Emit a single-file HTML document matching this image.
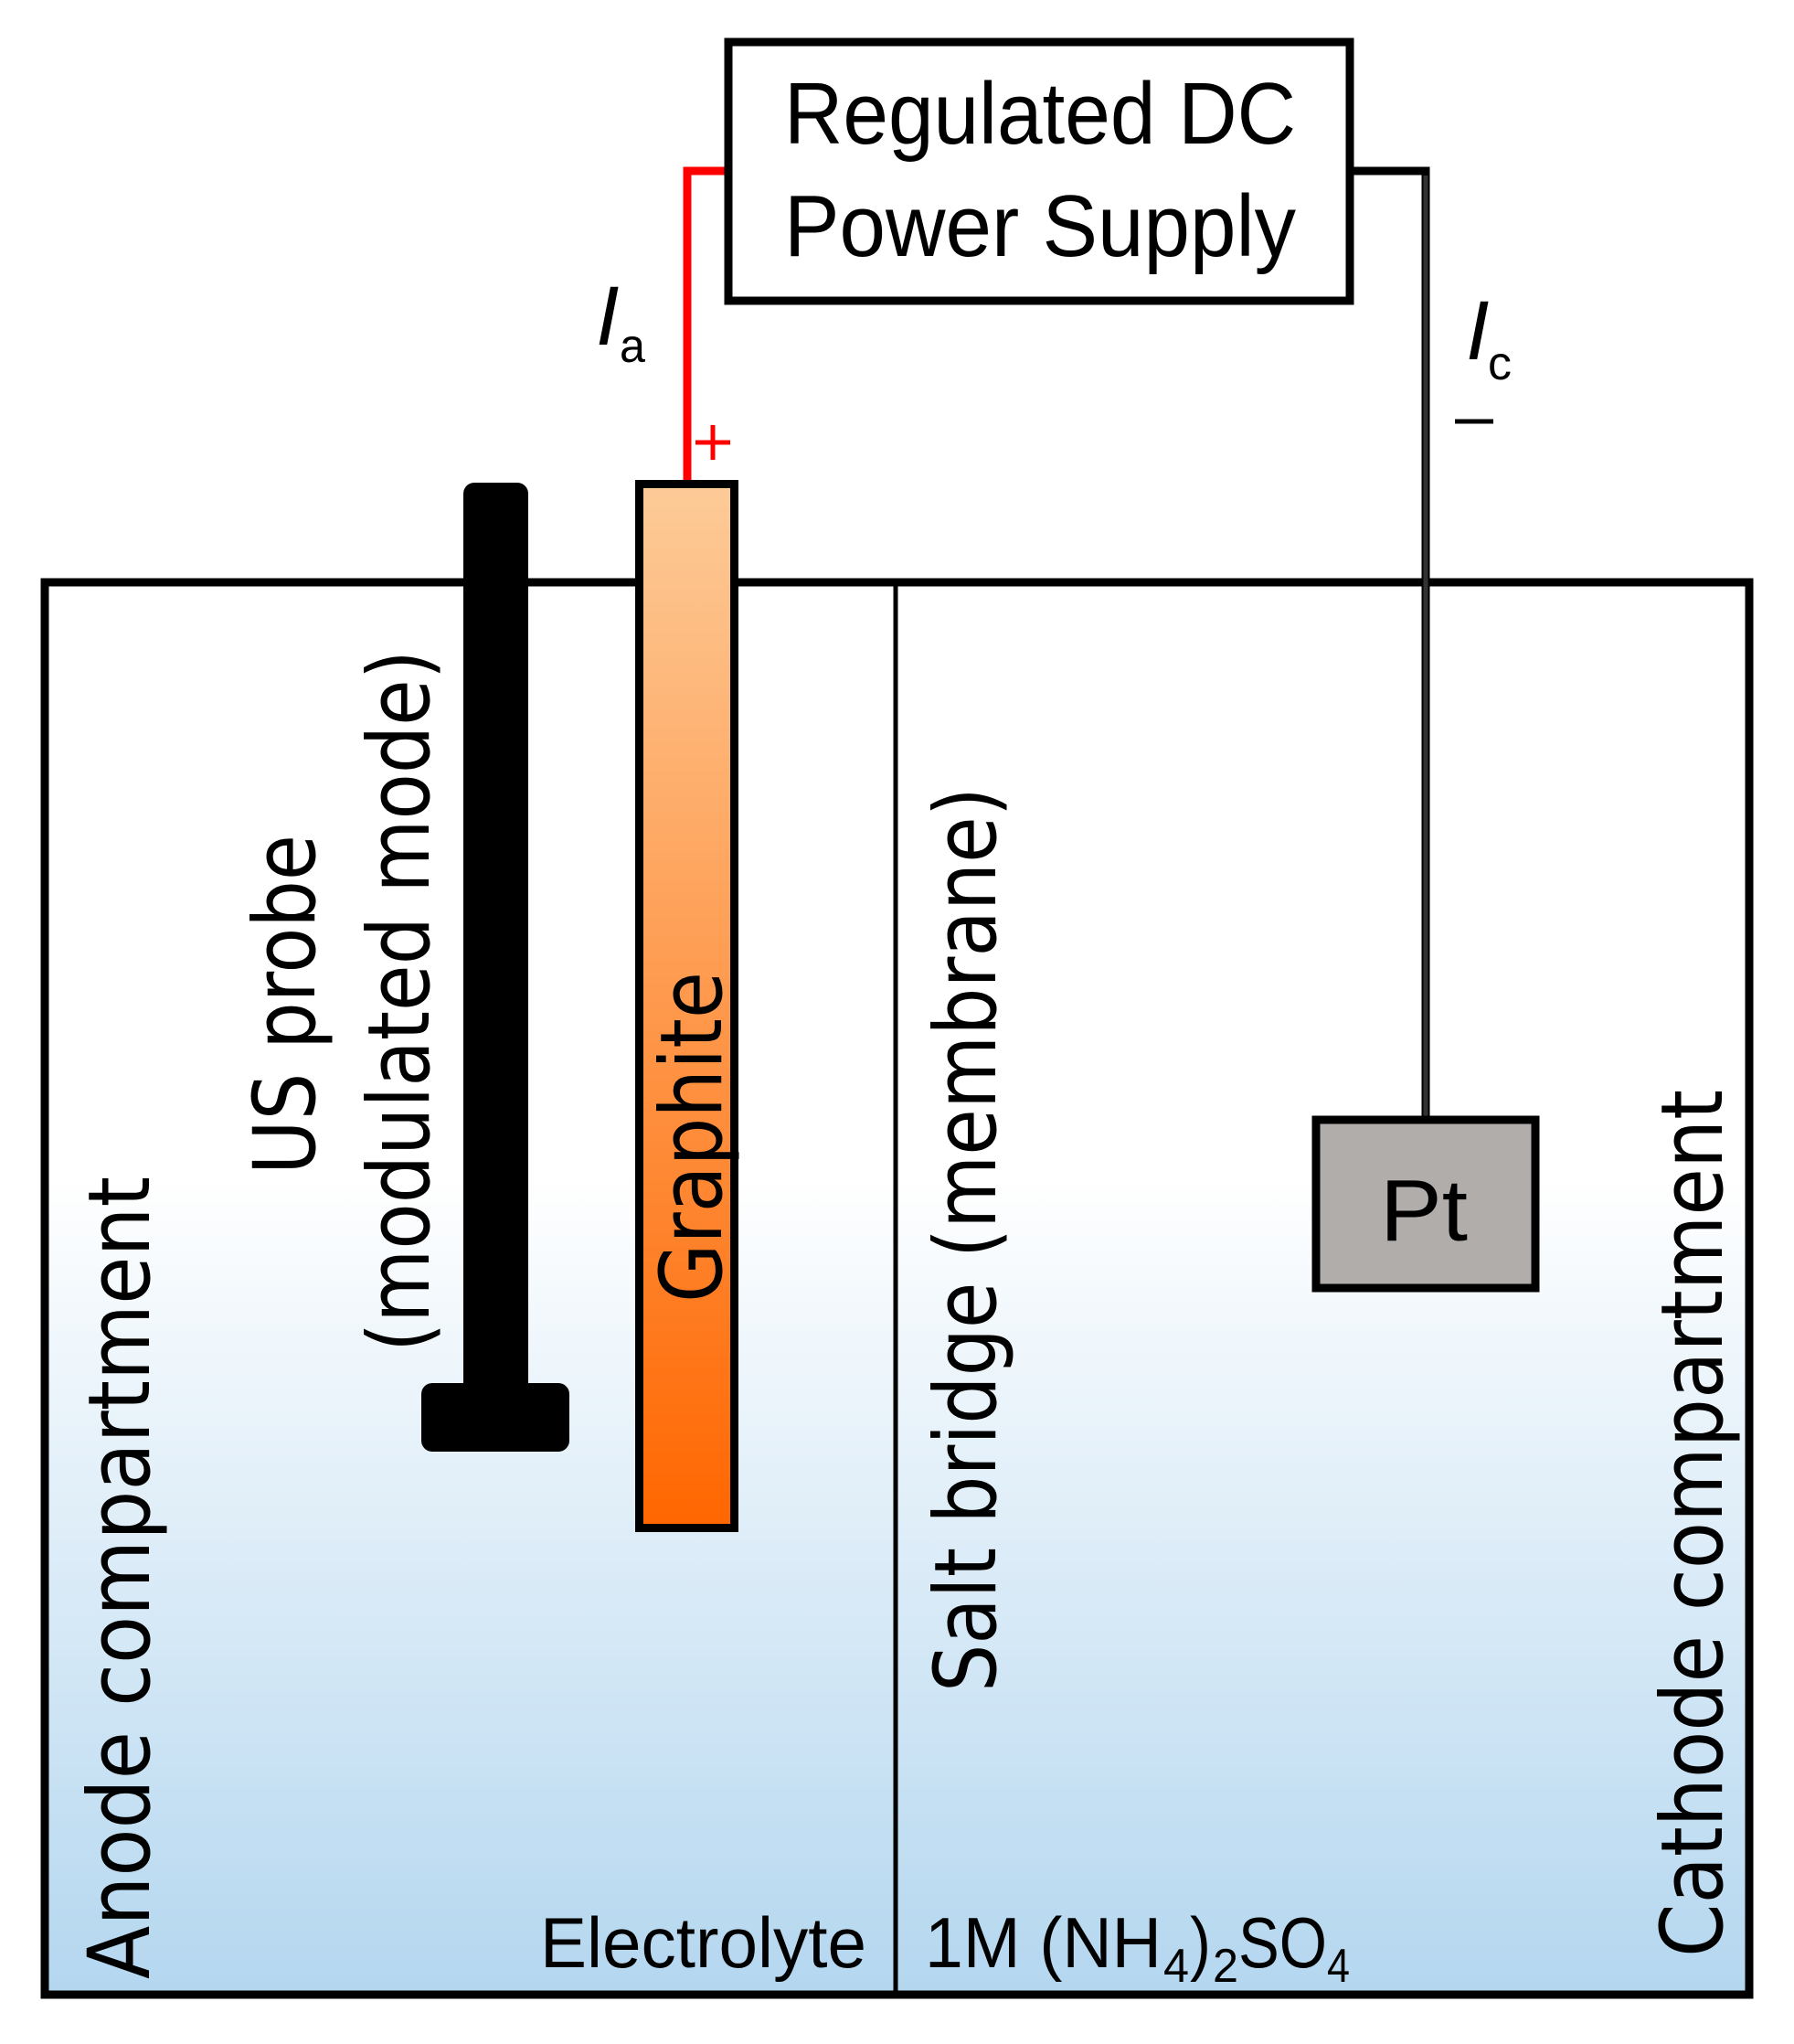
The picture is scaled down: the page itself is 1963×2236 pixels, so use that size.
<!DOCTYPE html>
<html><head><meta charset="utf-8"><style>html,body{margin:0;padding:0;background:#fff}svg{display:block}</style></head>
<body>
<svg width="1963" height="2236" viewBox="0 0 1963 2236" xmlns="http://www.w3.org/2000/svg">
<defs>
<linearGradient id="bg" x1="0" y1="0" x2="0" y2="1" gradientUnits="userSpaceOnUse" x1a="0">
</linearGradient>
<linearGradient id="tank" gradientUnits="userSpaceOnUse" x1="0" y1="633" x2="0" y2="2188">
<stop offset="0" stop-color="#ffffff"/>
<stop offset="0.42" stop-color="#ffffff"/>
<stop offset="1" stop-color="#b3d6ef"/>
</linearGradient>
<linearGradient id="gr" gradientUnits="userSpaceOnUse" x1="0" y1="530" x2="0" y2="1672">
<stop offset="0" stop-color="#fdcb98"/>
<stop offset="1" stop-color="#ff6600"/>
</linearGradient>
</defs>
<!-- tank -->
<rect x="49" y="637" width="1865" height="1545" fill="url(#tank)" stroke="#000" stroke-width="9"/>
<line x1="980" y1="637" x2="980" y2="2182" stroke="#000" stroke-width="5"/>
<!-- wires -->
<polyline points="752,527 752,187 795,187" fill="none" stroke="#ff0000" stroke-width="9"/>
<polyline points="1478,187 1560,187 1560,1222" fill="none" stroke="#000" stroke-width="9" />
<line x1="1560" y1="192" x2="1560" y2="1222" stroke="#333" stroke-width="5"/>
<!-- PSU -->
<rect x="797" y="46" width="680" height="283" fill="#fff" stroke="#000" stroke-width="9"/>
<text x="858" y="157" font-family="Liberation Sans, sans-serif" font-size="96" textLength="560" lengthAdjust="spacingAndGlyphs">Regulated DC</text>
<text x="858" y="280" font-family="Liberation Sans, sans-serif" font-size="96" textLength="560" lengthAdjust="spacingAndGlyphs">Power Supply</text>
<!-- labels -->
<text x="652" y="377" font-family="Liberation Sans, sans-serif" font-style="italic" font-size="92">I</text>
<text x="678" y="396" font-family="Liberation Sans, sans-serif" font-size="52" textLength="28" lengthAdjust="spacingAndGlyphs">a</text>
<text x="1604" y="393" font-family="Liberation Sans, sans-serif" font-style="italic" font-size="92">I</text>
<text x="1628" y="415" font-family="Liberation Sans, sans-serif" font-size="52" textLength="26" lengthAdjust="spacingAndGlyphs">c</text>
<line x1="1592" y1="461" x2="1634" y2="461" stroke="#000" stroke-width="5"/>
<line x1="761" y1="484" x2="799" y2="484" stroke="#ff0000" stroke-width="5"/>
<line x1="780" y1="465" x2="780" y2="503" stroke="#ff0000" stroke-width="5"/>
<!-- probe -->
<rect x="507" y="528" width="71" height="1000" rx="12" fill="#000"/>
<rect x="461" y="1513" width="162" height="75" rx="12" fill="#000"/>
<!-- graphite -->
<rect x="699.5" y="529.5" width="104" height="1142" fill="url(#gr)" stroke="#000" stroke-width="9"/>
<!-- Pt -->
<rect x="1440" y="1225" width="240" height="184" fill="#b0adab" stroke="#000" stroke-width="9"/>
<text x="1558" y="1357" text-anchor="middle" font-family="Liberation Sans, sans-serif" font-size="96" textLength="96" lengthAdjust="spacingAndGlyphs">Pt</text>
<!-- rotated texts -->
<g font-family="DejaVu Sans, sans-serif" font-size="94">
<text transform="translate(163,2165) rotate(-90)" textLength="878" lengthAdjust="spacingAndGlyphs">Anode compartment</text>
<text transform="translate(1884,2141) rotate(-90)" textLength="949" lengthAdjust="spacingAndGlyphs">Cathode compartment</text>
<text transform="translate(1089,1851) rotate(-90)" textLength="990" lengthAdjust="spacingAndGlyphs">Salt bridge (membrane)</text>
<text transform="translate(344,1285) rotate(-90)" textLength="372" lengthAdjust="spacingAndGlyphs">US probe</text>
<text transform="translate(469,1479) rotate(-90)" textLength="768" lengthAdjust="spacingAndGlyphs">(modulated mode)</text>
<text transform="translate(789,1425) rotate(-90)" textLength="362" lengthAdjust="spacingAndGlyphs">Graphite</text>
</g>
<!-- bottom labels -->
<g font-family="Liberation Sans, sans-serif" font-size="78">
<text x="591" y="2152" textLength="357" lengthAdjust="spacingAndGlyphs">Electrolyte</text>
<text x="1012" y="2152" textLength="259" lengthAdjust="spacingAndGlyphs">1M (NH</text>
<text x="1273" y="2168" font-size="52" textLength="28" lengthAdjust="spacingAndGlyphs">4</text>
<text x="1302" y="2152" textLength="23" lengthAdjust="spacingAndGlyphs">)</text>
<text x="1327" y="2168" font-size="52" textLength="28" lengthAdjust="spacingAndGlyphs">2</text>
<text x="1355" y="2152" textLength="97" lengthAdjust="spacingAndGlyphs">SO</text>
<text x="1452" y="2168" font-size="52" textLength="25" lengthAdjust="spacingAndGlyphs">4</text>
</g>
</svg>
</body></html>
